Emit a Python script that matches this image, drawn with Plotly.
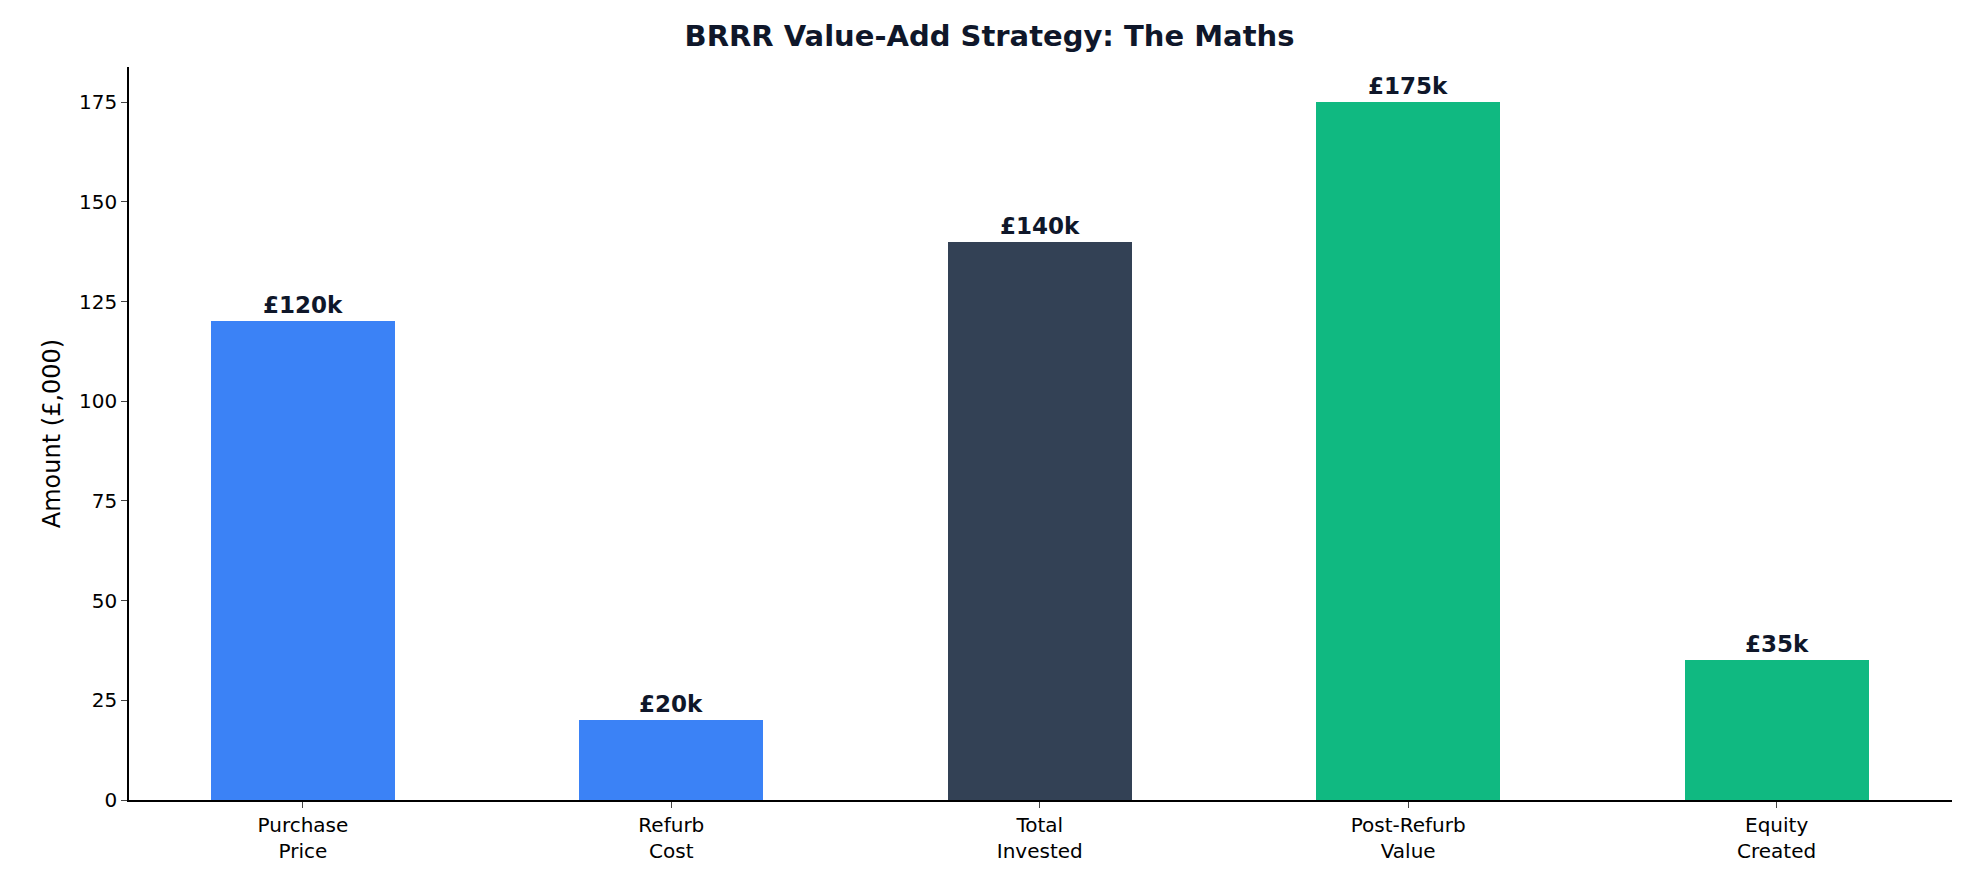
import plotly.graph_objects as go

categories = ["Purchase<br>Price", "Refurb<br>Cost", "Total<br>Invested", "Post-Refurb<br>Value", "Equity<br>Created"]
values = [120, 20, 140, 175, 35]
labels = ["£120k", "£20k", "£140k", "£175k", "£35k"]
colors = ["#3b82f6", "#3b82f6", "#334155", "#10b981", "#10b981"]

fig = go.Figure(go.Bar(
    x=list(range(len(values))), y=values, width=0.5,
    marker=dict(color=colors, line=dict(width=0)),
    text=labels, textposition="outside", cliponaxis=False,
    textfont=dict(family="DejaVu Sans", size=23, color="#0f172a", weight="bold"),
))
fig.update_layout(
    width=1963, height=880, plot_bgcolor="white", paper_bgcolor="white",
    margin=dict(l=121, r=19, t=59, b=88),
    title=dict(text="<b>BRRR Value-Add Strategy: The Maths</b>", x=0.5, xanchor="center", y=0.968, yanchor="middle",
               font=dict(family="DejaVu Sans", size=29, color="#0f172a")),
    font=dict(family="DejaVu Sans", size=20, color="black"),
    showlegend=False, bargap=0,
)
fig.update_xaxes(tickvals=list(range(len(values))), ticktext=categories, range=[-0.472, 4.476],
                 showline=True, linecolor="black", linewidth=1.5, ticks="outside", ticklen=6,
                 showgrid=False, tickfont=dict(size=20))
fig.update_yaxes(range=[0, 183.8], tickvals=[0, 25, 50, 75, 100, 125, 150, 175],
                 showline=True, linecolor="black", linewidth=1.5, ticks="outside", ticklen=6,
                 showgrid=False, zeroline=False, tickfont=dict(size=20),
                 title=dict(text="Amount (£,000)", font=dict(size=24), standoff=12))
fig.write_html("out.html")
